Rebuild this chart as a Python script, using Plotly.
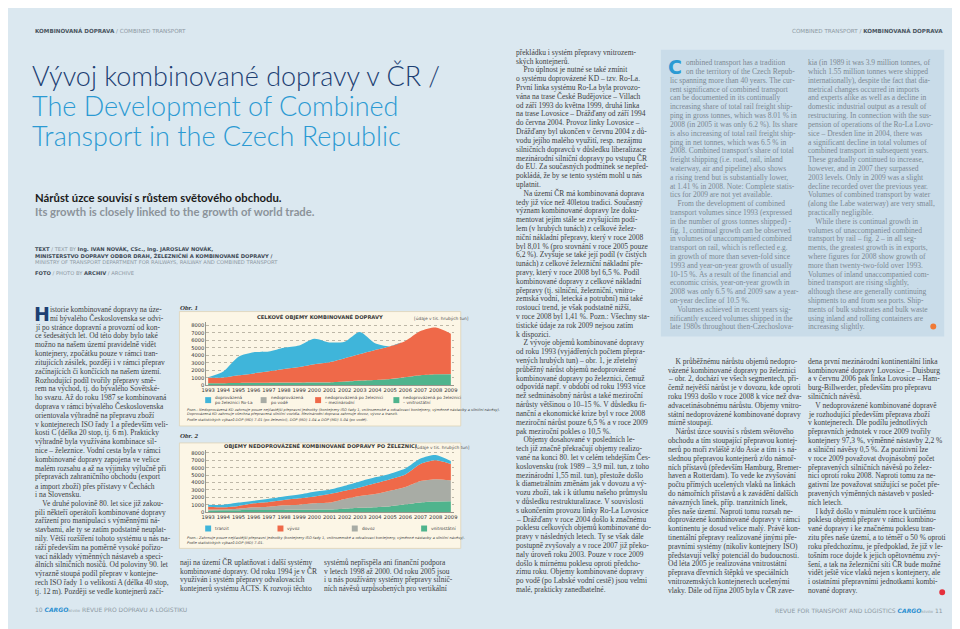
import plotly.graph_objects as go

# ---------------- DATA ----------------
years = list(range(1993, 2010))
year_labels = [str(y) for y in years]
y_ticks = [0, 1000, 2000, 3000, 4000, 5000, 6000, 7000, 8000]
y_tick_labels = [str(v) for v in y_ticks]

# Obr. 1 - celkové objemy kombinované dopravy [tis. hrubých tun]
obr1_vnitrostatni = [250, 260, 280, 300, 310, 320, 330, 350, 370, 480, 600, 680, 820, 1080, 1330, 1450, 1480]
obr1_voda = [10, 15, 20, 20, 25, 30, 25, 30, 35, 30, 25, 20, 20, 20, 15, 15, 10]
obr1_mezinarodni = [780, 740, 1020, 1260, 1520, 1820, 2070, 2420, 2670, 3090, 3550, 4020, 4380, 4820, 5900, 6250, 5410]
obr1_rola = [40, 830, 2500, 2840, 2670, 2860, 2900, 3430, 2660, 2230, 2950, 900, 0, 0, 0, 0, 0]

# Obr. 2 - nedoprovázená KD po železnici [tis. hrubých tun]
obr2_vnitrostatni = [250, 260, 280, 300, 310, 320, 330, 350, 370, 480, 600, 680, 820, 1080, 1330, 1450, 1480]
obr2_dovoz = [130, 120, 200, 370, 450, 620, 700, 850, 930, 1320, 1600, 1770, 2080, 2320, 2870, 3000, 2820]
obr2_vyvoz = [380, 290, 370, 530, 620, 710, 850, 940, 1160, 1100, 1150, 1450, 1560, 1700, 2300, 2550, 2200]
obr2_tranzit = [270, 330, 450, 360, 450, 490, 520, 630, 580, 670, 800, 800, 740, 800, 730, 700, 390]

obr1_legend = [("doprovázená", "po železnici Ro-La"), ("nedoprovázená", "po vodě"),
               ("nedoprovázená po železnici", "– mezinárodní"), ("nedoprovázená po železnici", "– vnitrostátní")]
obr2_legend = ["tranzit", "vývoz", "dovoz", "vnitrostátní"]

# ---------------- TEXTS ----------------
left_col = [
    "istorie kombinované dopravy na úze-",
    "mí bývalého Československa se odvi-",
    "jí po stránce dopravní a provozní od kon-",
    "ce šedesátých let. Od této doby bylo také",
    "možno na našem území pravidelně vidět",
    "kontejnery, zpočátku pouze v rámci tran-",
    "zitujících zásilek, později i v rámci přeprav",
    "začínajících či končících na našem území.",
    "Rozhodující podíl tvořily přepravy smě-",
    "rem na východ, tj. do bývalého Sovětské-",
    "ho svazu. Až do roku 1987 se kombinovaná",
    "doprava v rámci bývalého Československa",
    "orientovala výhradně na přepravu zboží",
    "v kontejnerech ISO řady 1 a především veli-",
    "kosti C (délka 20 stop, tj. 6 m). Prakticky",
    "výhradně byla využívána kombinace sil-",
    "nice – železnice. Vodní cesta byla v rámci",
    "kombinované dopravy zapojena ve velice",
    "malém rozsahu a až na výjimky výlučně při",
    "přepravách zahraničního obchodu (export",
    "a import zboží) přes přístavy v Čechách",
    "i na Slovensku.",
    "    Ve druhé polovině 80. let sice již zakou-",
    "pili někteří operátoři kombinované dopravy",
    "zařízení pro manipulaci s výměnnými ná-",
    "stavbami, ale ty se zatím podstatně neuplat-",
    "nily. Větší rozšíření tohoto systému u nás na-",
    "ráží především na poměrně vysoké pořizo-",
    "vací náklady výměnných nástaveb a speci-",
    "álních silničních nosičů. Od poloviny 90. let",
    "výrazně stoupá podíl přeprav v kontejne-",
    "rech ISO řady 1 o velikosti A (délka 40 stop,",
    "tj. 12 m). Později se vedle kontejnerů začí-",
]
mid_col_a = [
    "naji na území ČR uplatňovat i další systémy",
    "kombinované dopravy. Od roku 1994 je v ČR",
    "využíván i systém přepravy odvalovacích",
    "kontejnerů systému ACTS. K rozvoji těchto",
]
mid_col_b = [
    "systémů nepřispěla ani finanční podpora",
    "v letech 1998 až 2000. Od roku 2005 jsou",
    "i u nás používány systémy přepravy silnič-",
    "ních návěsů uzpůsobených pro vertikální",
]
right_col = [
    "překládku i systém přepravy vnitrozem-",
    "ských kontejnerů.",
    "    Pro úplnost je nutné se také zmínit",
    "o systému doprovázené KD – tzv. Ro-La.",
    "První linka systému Ro-La byla provozo-",
    "vána na trase České Budějovice – Villach",
    "od září 1993 do května 1999, druhá linka",
    "na trase Lovosice – Drážďany od září 1994",
    "do června 2004. Provoz linky Lovosice –",
    "Drážďany byl ukončen v červnu 2004 z dů-",
    "vodu jejího malého využití, resp. nezájmu",
    "silničních dopravců v důsledku liberalizace",
    "mezinárodní silniční dopravy po vstupu ČR",
    "do EU. Za současných podmínek se nepřed-",
    "pokládá, že by se tento systém mohl u nás",
    "uplatnit.",
    "    Na území ČR má kombinovaná doprava",
    "tedy již více než 40letou tradici. Současný",
    "význam kombinované dopravy lze doku-",
    "mentovat jejím stále se zvyšujícím podí-",
    "lem (v hrubých tunách) z celkové želez-",
    "niční nákladní přepravy, který v roce 2008",
    "byl 8,01 % (pro srovnání v roce 2005 pouze",
    "6,2 %). Zvyšuje se také její podíl (v čistých",
    "tunách) z celkové železniční nákladní pře-",
    "pravy, který v roce 2008 byl 6,5 %. Podíl",
    "kombinované dopravy z celkové nákladní",
    "přepravy (tj. silniční, železniční, vnitro-",
    "zemská vodní, letecká a potrubní) má také",
    "rostoucí trend, je však podstatně nižší,",
    "v roce 2008 byl 1,41 %. Pozn.: Všechny sta-",
    "tistické údaje za rok 2009 nejsou zatím",
    "k dispozici.",
    "    Z vývoje objemů kombinované dopravy",
    "od roku 1993 (vyjádřených počtem přepra-",
    "vených hrubých tun) – obr. 1, je zřetelný",
    "průběžný nárůst objemů nedoprovázené",
    "kombinované dopravy po železnici, čemuž",
    "odpovídá např. v období od roku 1993 více",
    "než sedminásobný nárůst a také meziroční",
    "nárůsty většinou o 10–15 %. V důsledku fi-",
    "nanční a ekonomické krize byl v roce 2008",
    "meziroční nárůst pouze 6,5 % a v roce 2009",
    "pak meziroční pokles o 10,5 %.",
    "    Objemy dosahované v posledních le-",
    "tech již značně překračují objemy realizo-",
    "vané na konci 80. let v celém tehdejším Čes-",
    "koslovensku (rok 1989 – 3,9 mil. tun, z toho",
    "mezinárodní 1,55 mil. tun), přestože došlo",
    "k diametrálním změnám jak v dovozu a vý-",
    "vozu zboží, tak i k útlumu našeho průmyslu",
    "v důsledku restrukturalizace. V souvislosti",
    "s ukončením provozu linky Ro-La Lovosice",
    "– Drážďany v roce 2004 došlo k značnému",
    "poklesu celkových objemů kombinované do-",
    "pravy v následných letech. Ty se však dále",
    "postupně zvyšovaly a v roce 2007 již překo-",
    "naly úroveň roku 2003. Pouze v roce 2009",
    "došlo k mírnému poklesu oproti předcho-",
    "zímu roku. Objemy kombinované dopravy",
    "po vodě (po Labské vodní cestě) jsou velmi",
    "malé, prakticky zanedbatelné.",
]
en_col_a = [
    "ombined transport has a tradition",
    "on the territory of the Czech Repub-",
    "lic spanning more than 40 years. The cur-",
    "rent significance of combined transport",
    "can be documented in its continually",
    "increasing share of total rail freight ship-",
    "ping in gross tonnes, which was 8.01 % in",
    "2008 (in 2005 it was only 6.2 %). Its share",
    "is also increasing of total rail freight ship-",
    "ping in net tonnes, which was 6.5 % in",
    "2008. Combined transport's share of total",
    "freight shipping (i.e. road, rail, inland",
    "waterway, air and pipeline) also shows",
    "a rising trend but is substantially lower,",
    "at 1.41 % in 2008. Note: Complete statis-",
    "tics for 2009 are not yet available.",
    "    From the development of combined",
    "transport volumes since 1993 (expressed",
    "in the number of gross tonnes shipped) -",
    "fig. 1, continual growth can be observed",
    "in volumes of unaccompanied combined",
    "transport on rail, which is reflected e.g.",
    "in growth of more than seven-fold since",
    "1993 and year-on-year growth of usually",
    "10-15 %. As a result of the financial and",
    "economic crisis, year-on-year growth in",
    "2008 was only 6.5 % and 2009 saw a year-",
    "on-year decline of 10.5 %.",
    "    Volumes achieved in recent years sig-",
    "nificantly exceed volumes shipped in the",
    "late 1980s throughout then-Czechoslova-",
]
en_col_b = [
    "kia (in 1989 it was 3.9 million tonnes, of",
    "which 1.55 million tonnes were shipped",
    "internationally), despite the fact that dia-",
    "metrical changes occurred in imports",
    "and experts alike as well as a decline in",
    "domestic industrial output as a result of",
    "restructuring. In connection with the sus-",
    "pension of operations of the Ro-La Lovo-",
    "sice – Dresden line in 2004, there was",
    "a significant decline in total volumes of",
    "combined transport in subsequent years.",
    "These gradually continued to increase,",
    "however, and in 2007 they surpassed",
    "2003 levels. Only in 2009 was a slight",
    "decline recorded over the previous year.",
    "Volumes of combined transport by water",
    "(along the Labe waterway) are very small,",
    "practically negligible.",
    "    While there is continual growth in",
    "volumes of unaccompanied combined",
    "transport by rail – fig. 2 – in all seg-",
    "ments, the greatest growth is in exports,",
    "where figures for 2008 show growth of",
    "more than twenty-two-fold over 1993.",
    "Volumes of inland unaccompanied com-",
    "bined transport are rising slightly,",
    "although these are generally continuing",
    "shipments to and from sea ports. Ship-",
    "ments of bulk substrates and bulk waste",
    "using inland and rolling containers are",
    "increasing slightly.",
]
br_col_a = [
    "    K průběžnému nárůstu objemů nedopro-",
    "vázené kombinované dopravy po železnici",
    "– obr. 2, dochází ve všech segmentech, při-",
    "čemž největší nárůst je v dovozu, kde oproti",
    "roku 1993 došlo v roce 2008 k více než dva-",
    "advacetinásobnému nárůstu. Objemy vnitro-",
    "státní nedoprovázené kombinované dopravy",
    "mírně stoupají.",
    "    Nárůst úzce souvisí s růstem světového",
    "obchodu a tím stoupající přepravou kontej-",
    "nerů po moři zvláště z/do Asie a tím i s ná-",
    "slednou přepravou kontejnerů z/do námoř-",
    "ních přístavů (především Hamburg, Bremer-",
    "haven a Rotterdam). To vede ke zvyšování",
    "počtu přímých ucelených vlaků na linkách",
    "do námořních přístavů a k zavádění dalších",
    "návazných linek, příp. tranzitních linek,",
    "přes naše území. Naproti tomu rozsah ne-",
    "doprovázené kombinované dopravy v rámci",
    "kontinentu je dosud velice malý. Právě kon-",
    "tinentální přepravy realizované jinými pře-",
    "pravními systémy (nikoliv kontejnery ISO)",
    "představují velký potenciál do budoucnosti.",
    "Od léta 2005 je realizována vnitrostátní",
    "přeprava dřevních štěpků ve speciálních",
    "vnitrozemských kontejnerech ucelenými",
    "vlaky. Dále od října 2005 byla v ČR zave-",
]
br_col_b = [
    "dena první mezinárodní kontinentální linka",
    "kombinované dopravy Lovosice – Duisburg",
    "a v červnu 2006 pak linka Lovosice – Ham-",
    "burg-Billwerder, především pro přepravu",
    "silničních návěsů.",
    "    V nedoprovázené kombinované dopravě",
    "je rozhodující především přeprava zboží",
    "v kontejnerech. Dle podílu jednotlivých",
    "přepravních jednotek v roce 2009 tvořily",
    "kontejnery 97,3 %, výměnné nástavby 2,2 %",
    "a silniční návěsy 0,5 %. Za pozitivní lze",
    "v roce 2009 považovat dvojnásobný počet",
    "přepravených silničních návěsů po želez-",
    "nici oproti roku 2008. Naproti tomu za ne-",
    "gativní lze považovat snižující se počet pře-",
    "pravených výměnných nástaveb v posled-",
    "ních letech.",
    "    I když došlo v minulém roce k určitému",
    "poklesu objemů přeprav v rámci kombino-",
    "vané dopravy i ke značnému poklesu tran-",
    "zitu přes naše území, a to téměř o 50 % oproti",
    "roku předchozímu, je předpoklad, že již v le-",
    "tošním roce dojde k jejich opětovnému zvý-",
    "šení, a tak na železniční síti ČR bude možné",
    "vidět ještě více vlaků nejen s kontejnery, ale",
    "i ostatními přepravními jednotkami kombi-",
    "nované dopravy.",
]

# ---------------- STYLE ----------------
W, H = 960, 629
BG = "#dbe8f0"
BOX = "#fcf6e6"
C_BLUE = "#3fb5da"
C_RED = "#ef6949"
C_GREEN = "#4fb48d"
C_GRAY = "#a8aca5"
SERIF = "Liberation Serif"
SANS = "DejaVu Sans"
BODY = "#404040"
EN = "#7c8892"
PITCH = 8.85
BODY_SIZE = 7.5

def px(x):
    return x / W

def py(y):
    return 1 - y / H

ann = []
shapes = []

def txt(x, y, s, size, color, family=SANS, xanchor="left", yanchor="middle", weight="normal", style="normal"):
    ann.append(dict(x=px(x), y=py(y), xref="paper", yref="paper", text=s, showarrow=False,
                    xanchor=xanchor, yanchor=yanchor, borderpad=0,
                    font=dict(size=size, color=color, family=family, weight=weight, style=style)))

def column(lines, x, y0, color, indent_first=0, indent_x=0):
    for i, s in enumerate(lines):
        xx = x + (indent_x if i < indent_first else 0)
        txt(xx, y0 + i * PITCH, s, BODY_SIZE, color, SERIF)

def rect(x0, y0, x1, y1, fill, line=None, lw=0):
    shapes.append(dict(type="rect", xref="paper", yref="paper", x0=px(x0), x1=px(x1), y0=py(y1), y1=py(y0),
                       fillcolor=fill, line=dict(color=line or fill, width=lw), layer="below"))

# ---------------- FIGURE ----------------
fig = go.Figure()

for vals, col, name in [(obr1_vnitrostatni, C_GREEN, "vnitrostátní"), (obr1_voda, C_GRAY, "po vodě"),
                        (obr1_mezinarodni, C_RED, "mezinárodní"), (obr1_rola, C_BLUE, "Ro-La")]:
    fig.add_trace(go.Scatter(x=years, y=vals, stackgroup="s1", mode="lines", name=name,
                             line=dict(width=0, shape="spline", smoothing=0.7, color=col),
                             fillcolor=col, xaxis="x", yaxis="y", showlegend=False, hoverinfo="skip"))
for vals, col, name in [(obr2_vnitrostatni, C_GREEN, "vnitrostátní"), (obr2_dovoz, C_GRAY, "dovoz"),
                        (obr2_vyvoz, C_RED, "vývoz"), (obr2_tranzit, C_BLUE, "tranzit")]:
    fig.add_trace(go.Scatter(x=years, y=vals, stackgroup="s2", mode="lines", name=name,
                             line=dict(width=0, shape="spline", smoothing=0.7, color=col),
                             fillcolor=col, xaxis="x2", yaxis="y2", showlegend=False, hoverinfo="skip"))

xr = [1993 - 2 / 15.3125, 2009 + 3 / 15.3125]
axis_font = dict(size=5.2, color="#333333", family=SANS)

def xax():
    return dict(domain=[px(195), px(445)], range=xr, tickvals=years, ticktext=year_labels, tickangle=0,
                tickfont=axis_font, showgrid=False, zeroline=False, showline=True,
                linecolor="#9a968c", linewidth=0.6, ticks="", fixedrange=True)

def yax(y_bottom, y_top):
    return dict(domain=[py(y_bottom), py(y_top)], range=[0, 8400], tickvals=y_ticks, ticktext=y_tick_labels,
                tickfont=axis_font, showgrid=True, gridcolor="#bdb7a7", gridwidth=0.6, griddash="dot",
                zeroline=False, showline=True, linecolor="#9a968c", linewidth=0.6, ticks="", fixedrange=True)

rect(168, 305, 452, 420, BOX, "#ddd3b8", 0.8)
rect(168, 437, 452, 543, BOX, "#ddd3b8", 0.8)
rect(654, 42, 940, 330, "#c9dce9")

# ---- header / titles ----
txt(21, 22.5, "<b>KOMBINOVANÁ DOPRAVA</b> <span style='color:#8d99a3'>/ COMBINED TRANSPORT</span>", 5.6, "#4a5560")
txt(940, 22.5, "<span style='color:#8d99a3'>COMBINED TRANSPORT /</span> <b>KOMBINOVANÁ DOPRAVA</b>", 5.6, "#4a5560", xanchor="right")
TF = "Lato"
txt(18, 68, "Vývoj kombinované dopravy v ČR /", 27, "#1d3f73", TF, weight=300)
txt(18, 98, "The Development of Combined", 27, "#2b9ad3", TF, weight=300)
txt(18, 128, "Transport in the Czech Republic", 27, "#2b9ad3", TF, weight=300)
txt(21, 190, "Nárůst úzce souvisí s růstem světového obchodu.", 11.3, "#1b1b1b", TF, weight="bold")
txt(21, 204, "Its growth is closely linked to the growth of world trade.", 11.3, "#8b939a", TF, weight="bold")

cred = 5.2
txt(21, 242.7, "<b>TEXT</b> <span style='color:#8d99a3'>/ TEXT BY</span> <b>Ing. IVAN NOVÁK, CSc., Ing. JAROSLAV NOVÁK,</b>", cred, "#3f4a55")
txt(21, 249, "<b>MINISTERSTVO DOPRAVY ODBOR DRAH, ŽELEZNIČNÍ A KOMBINOVANÉ DOPRAVY /</b>", cred, "#3f4a55")
txt(21, 255.3, "MINISTRY OF TRANSPORT DEPARTMENT FOR RAILWAYS, RAILWAY AND COMBINED TRANSPORT", cred, "#8d99a3")
txt(21, 266.3, "<b>FOTO</b> <span style='color:#8d99a3'>/ PHOTO BY</span> <b>ARCHIV</b> <span style='color:#8d99a3'>/ ARCHIVE</span>", cred, "#3f4a55")

# ---- body columns ----
txt(20, 307.5, "<b>H</b>", 19, "#1d3f73", SANS)
column(left_col, 21, 303, BODY, indent_first=2, indent_x=15)
column(mid_col_a, 168, 557, BODY)
column(mid_col_b, 313, 557, BODY)
column(right_col, 507, 44.5, BODY)
txt(660, 59, "<b>C</b>", 19, "#2b9ad3", SANS)
column(en_col_a, 662, 55, EN, indent_first=2, indent_x=16)
column(en_col_b, 802, 55, EN)
column(br_col_a, 660, 355, BODY)
column(br_col_b, 802, 355, BODY)
shapes.append(dict(type="circle", xref="paper", yref="paper", x0=px(926), x1=px(932), y0=py(323), y1=py(317),
                   fillcolor="#f07a36", line=dict(width=0)))
shapes.append(dict(type="circle", xref="paper", yref="paper", x0=px(935), x1=px(941), y0=py(590), y1=py(584),
                   fillcolor="#e5303c", line=dict(width=0)))

# ---- footers ----
txt(21, 604, "<span style='color:#8d99a3'>10</span> <b><i><span style='color:#2a8fd0'>CARGO</span></i></b><span style='font-size:3px'>REVIEW</span> <span style='color:#8d99a3'>REVUE PRO DOPRAVU A LOGISTIKU</span>", 6, "#8d99a3")
txt(940, 605, "REVUE FOR TRANSPORT AND LOGISTICS <b><i><span style='color:#2a8fd0'>CARGO</span></i></b><span style='font-size:3px'>REVIEW</span> 11", 6, "#8d99a3", xanchor="right")

# ---- chart 1 texts ----
txt(168, 301, "<b><i>Obr. 1</i></b>", 7, "#333333", SERIF)
txt(310, 311, "<b>CELKOVÉ OBJEMY KOMBINOVANÉ DOPRAVY</b>", 5.2, "#3a3a3a", SANS, xanchor="center")
txt(404, 312, "[údaje v tis. hrubých tun]", 4.3, "#555555", SANS)
leg1_x = [197, 253, 308, 387]
leg1_c = [C_BLUE, C_GRAY, C_RED, C_GREEN]
for xx, c, (l1, l2) in zip(leg1_x, leg1_c, obr1_legend):
    shapes.append(dict(type="rect", xref="paper", yref="paper", x0=px(xx - 3), x1=px(xx + 3), y0=py(397), y1=py(391),
                       fillcolor=c, line=dict(width=0)))
    txt(xx + 6, 391.5, l1, 4.2, "#444444", SANS)
    txt(xx + 6, 396.5, l2, 4.2, "#444444", SANS)
fn = 3.6
txt(175, 403.5, "<i>Pozn.: Nedoprovázená KD zahrnuje pouze nejčastější přepravní jednotky (kontejnery ISO řady 1, vnitrozemské a odvalovací kontejnery, výměnné nástavby a silniční návěsy).</i>", fn, "#444444", SANS)
txt(175, 408.3, "<i>Doprovázená KD zahrnuje všechna přepravená silniční vozidla. Mezinárodní doprava zahrnuje dovoz, vývoz a tranzit.</i>", fn, "#444444", SANS)
txt(175, 413.1, "<i>Podle statistických výkazů DOP (MD) 7-01 (po železnici), DOP (MD) 1-04 a DOP (MD) 5-04 (po vodě).</i>", fn, "#444444", SANS)

# ---- chart 2 texts ----
txt(168, 430, "<b><i>Obr. 2</i></b>", 7, "#333333", SERIF)
txt(310, 441, "<b>OBJEMY NEDOPROVÁZENÉ KOMBINOVANÉ DOPRAVY PO ŽELEZNICI</b>", 5.2, "#3a3a3a", SANS, xanchor="center")
txt(405, 441.5, "[údaje v tis. hrubých tun]", 4.3, "#555555", SANS)
leg2_x = [197, 270, 345, 415]
leg2_c = [C_BLUE, C_RED, C_GRAY, C_GREEN]
for xx, c, l in zip(leg2_x, leg2_c, obr2_legend):
    shapes.append(dict(type="rect", xref="paper", yref="paper", x0=px(xx - 3), x1=px(xx + 3), y0=py(526), y1=py(520),
                       fillcolor=c, line=dict(width=0)))
    txt(xx + 6, 523, l, 4.3, "#444444", SANS)
txt(175, 532.3, "<i>Pozn.: Zahrnuje pouze nejčastější přepravní jednotky (kontejnery ISO řady 1, vnitrozemské a odvalovací kontejnery, výměnné nástavby a silniční návěsy).</i>", fn, "#444444", SANS)
txt(175, 537.3, "<i>Podle statistických výkazů DOP (MD) 7-01.</i>", fn, "#444444", SANS)

fig.update_layout(
    width=W, height=H, margin=dict(l=0, r=0, t=0, b=0),
    paper_bgcolor=BG, plot_bgcolor="rgba(0,0,0,0)",
    showlegend=False,
    xaxis=dict(anchor="y", **xax()),
    yaxis=dict(anchor="x", **yax(379, 316)),
    xaxis2=dict(anchor="y2", **xax()),
    yaxis2=dict(anchor="x2", **yax(506.7, 444)),
    annotations=ann, shapes=shapes,
)

fig.write_html("out.html")
